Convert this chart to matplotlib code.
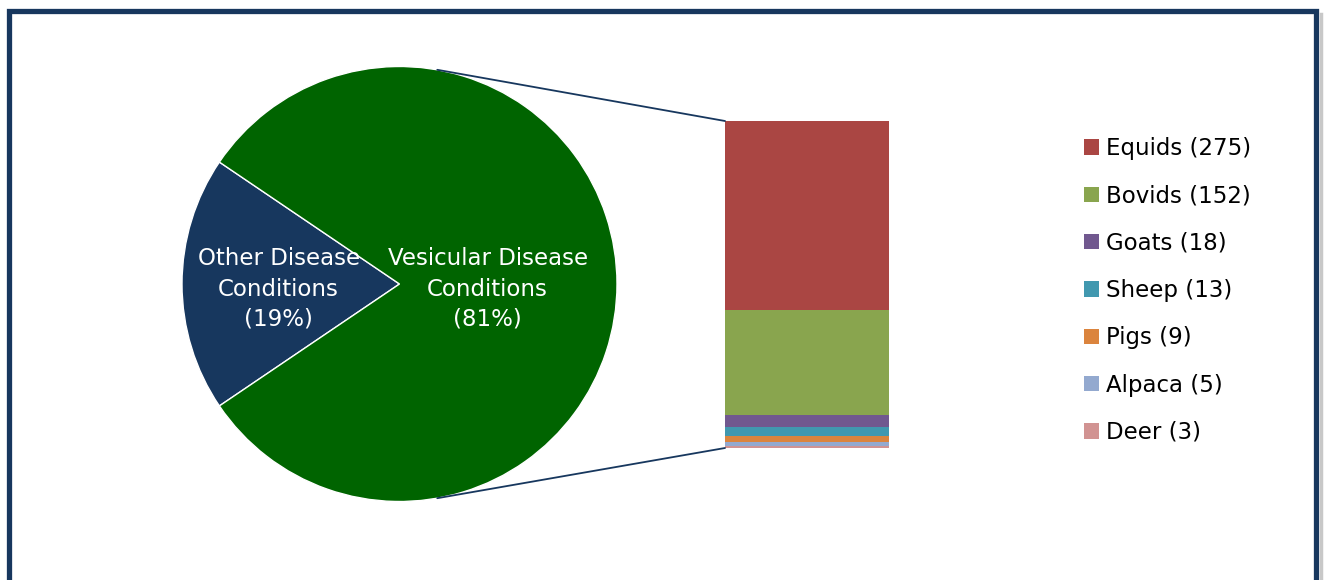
import numpy as np
import matplotlib.pyplot as plt
from matplotlib.patches import Rectangle, ConnectionPatch
from matplotlib.lines import Line2D

# pie data
pie_labels = ['Other Disease\nConditions', 'Vesicular Disease\nConditions']
pie_values = [111, 475]
pie_colors = ['#17375E', '#006400']

# bar (breakdown of vesicular) data, top to bottom
species = ['Equids', 'Bovids', 'Goats', 'Sheep', 'Pigs', 'Alpaca', 'Deer']
counts = [275, 152, 18, 13, 9, 5, 3]
bar_colors = ['#AA4643', '#89A54E', '#71588F', '#4198AF', '#DB843D', '#93A9CF', '#D19392']

W, H = 1324, 580
fig = plt.figure(figsize=(W / 100, H / 100), dpi=100)
plt.rcParams['font.family'] = ['DejaVu Sans']

# outer frame with a faint shadow on the right
fig.add_artist(Line2D([1320.5 / W, 1320.5 / W], [0, 1 - 14 / H], transform=fig.transFigure,
                      color='#C8C8C8', lw=2.5, zorder=0))
fig.patches.append(Rectangle((9 / W, -0.2), (1316 - 9) / W, 1.2 - 11 / H,
                             transform=fig.transFigure, fill=False,
                             edgecolor='#17375E', lw=3.8, zorder=1))

# pie
ax_pie = fig.add_axes([182 / W, (H - 502) / H, 435 / W, 436 / H])
frac = pie_values[0] / sum(pie_values)
start = 180 - frac * 180
wedges, _ = ax_pie.pie(pie_values, colors=pie_colors, startangle=start, radius=1,
                       wedgeprops=dict(edgecolor='white', linewidth=1))
ax_pie.set_xlim(-1, 1)
ax_pie.set_ylim(-1, 1)
ax_pie.set_aspect('equal')
ax_pie.axis('off')

label_r = [0.556, 0.405]
for w, lab, val, r in zip(wedges, pie_labels, pie_values, label_r):
    mid = np.deg2rad((w.theta1 + w.theta2) / 2)
    pct = round(val / sum(pie_values) * 100)
    ax_pie.text(r * np.cos(mid), r * np.sin(mid) - 0.023, f'{lab}\n({pct}%)',
                ha='center', va='center', color='white', fontsize=16.5,
                linespacing=1.4)

# stacked bar
ax_bar = fig.add_axes([725 / W, (H - 448) / H, 164 / W, 327 / H])
bottom = 0
handles = {}
for name, c, col in zip(species[::-1], counts[::-1], bar_colors[::-1]):
    b = ax_bar.bar(0, c, width=1, bottom=bottom, align='edge', color=col,
                   label=f'{name} ({c})')
    handles[name] = b
    bottom += c
ax_bar.set_xlim(0, 1)
ax_bar.set_ylim(0, sum(counts))
ax_bar.axis('off')

# connector lines
ang = np.deg2rad(80)
for sy, by in [(1, sum(counts)), (-1, 0)]:
    con = ConnectionPatch(xyA=(np.cos(ang), sy * np.sin(ang)), coordsA=ax_pie.transData,
                          xyB=(0, by), coordsB=ax_bar.transData,
                          color='#17375E', lw=1.3)
    fig.add_artist(con)

# legend
leg = fig.legend([handles[s] for s in species], [f'{s} ({c})' for s, c in zip(species, counts)],
                 loc='upper left', bbox_to_anchor=(1075 / W, 1 - 128 / H),
                 frameon=False, fontsize=16.5, handlelength=0.65, handleheight=0.65,
                 handletextpad=0.3, labelspacing=1.06, borderaxespad=0)

fig.savefig('out.png', dpi=100, facecolor='white')
